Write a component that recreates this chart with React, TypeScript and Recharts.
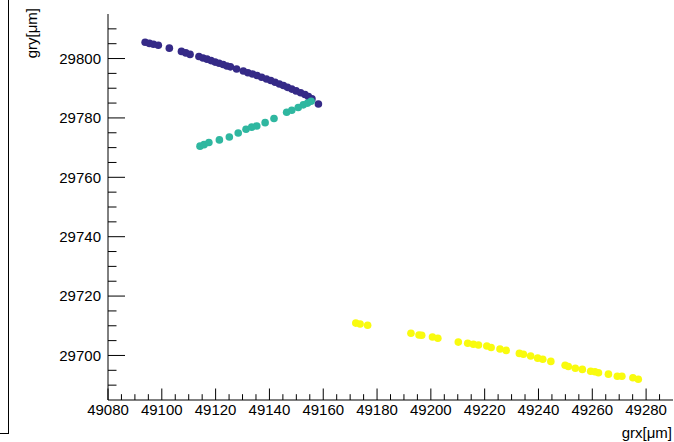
import React from 'react';
import { ScatterChart, Scatter, XAxis, YAxis } from 'recharts';

// first track (dark blue)
const blueX = [
  49093.8, 49095.4, 49096.9, 49098.7, 49102.8, 49107.3, 49108.9, 49110.5, 49113.8, 49115.3,
  49116.8, 49118.3, 49119.8, 49121.3, 49122.8, 49124.2, 49125.5, 49127.8, 49130.3, 49132.0,
  49133.7, 49135.4, 49137.1, 49138.9, 49140.5, 49142.1, 49143.7, 49145.2, 49146.7, 49148.3,
  49149.9, 49151.6, 49153.2, 49154.5, 49155.8, 49158.2,
];
const blueY = [
  29805.5, 29805.1, 29804.8, 29804.5, 29803.5, 29802.4, 29801.9, 29801.4, 29800.7, 29800.2,
  29799.8, 29799.3, 29798.8, 29798.4, 29798.0, 29797.5, 29797.2, 29796.5, 29795.8, 29795.2,
  29794.8, 29794.3, 29793.7, 29793.1, 29792.6, 29792.0, 29791.4, 29790.9, 29790.3, 29789.7,
  29789.1, 29788.5, 29787.9, 29787.2, 29786.4, 29784.7,
];

// second track (teal)
const tealX = [
  49114.2, 49115.7, 49117.5, 49121.4, 49125.1, 49128.4, 49131.3, 49133.4, 49135.3, 49138.4,
  49141.7, 49146.4, 49148.3, 49150.7, 49152.6, 49154.2, 49155.5,
];
const tealY = [
  29770.5, 29771.0, 29771.7, 29772.6, 29773.6, 29774.9, 29776.2, 29776.9, 29777.3, 29778.4,
  29779.8, 29781.9, 29782.6, 29783.5, 29784.4, 29785.0, 29785.6,
];

// third track (yellow)
const yellowX = [
  49172.1, 49173.7, 49176.5, 49192.6, 49195.6, 49196.6, 49200.6, 49202.6, 49210.2, 49213.7,
  49215.8, 49217.7, 49220.8, 49222.4, 49225.7, 49228.0, 49232.9, 49234.4, 49237.1, 49239.7,
  49241.6, 49244.6, 49249.9, 49251.1, 49253.7, 49256.3, 49259.4, 49261.0, 49262.3, 49266.0,
  49269.3, 49271.0, 49275.1, 49277.1,
];
const yellowY = [
  29710.9, 29710.6, 29710.2, 29707.5, 29706.9, 29706.8, 29706.2, 29705.8, 29704.5, 29704.1,
  29703.8, 29703.5, 29703.2, 29702.7, 29702.2, 29701.7, 29700.7, 29700.4, 29699.8, 29699.1,
  29698.7, 29698.0, 29696.7, 29696.3, 29695.7, 29695.3, 29694.7, 29694.5, 29694.2, 29693.7,
  29693.0, 29693.0, 29692.5, 29692.0,
];

const xTicks = [
  49080, 49085, 49090, 49095, 49100, 49105, 49110, 49115, 49120, 49125, 49130, 49135, 49140, 49145,
  49150, 49155, 49160, 49165, 49170, 49175, 49180, 49185, 49190, 49195, 49200, 49205, 49210, 49215,
  49220, 49225, 49230, 49235, 49240, 49245, 49250, 49255, 49260, 49265, 49270, 49275, 49280, 49285,
];
const yTicks = [
  29690, 29695, 29700, 29705, 29710, 29715, 29720, 29725, 29730, 29735, 29740, 29745, 29750,
  29755, 29760, 29765, 29770, 29775, 29780, 29785, 29790, 29795, 29800, 29805, 29810,
];

const zip = (xs: number[], ys: number[]) => xs.map((x, i) => ({ x, y: ys[i] }));

const FONT = '"Liberation Sans", Arial, Helvetica, sans-serif';

const XTick = (props: any) => {
  const { x, y, payload } = props;
  const major = payload.value % 20 === 0;
  return (
    <g>
      <line x1={x} y1={y} x2={x} y2={y - (major ? 11.5 : 5.8)} stroke="#000" />
      {major && (
        <text x={x} y={y + 15} textAnchor="middle" fontSize={15} fontFamily={FONT} fill="#000">
          {payload.value}
        </text>
      )}
    </g>
  );
};

const YTick = (props: any) => {
  const { x, y, payload } = props;
  const major = payload.value % 20 === 0;
  return (
    <g>
      <line x1={x} y1={y} x2={x + (major ? 17 : 8.5)} y2={y} stroke="#000" />
      {major && (
        <text x={x - 7} y={y + 5.3} textAnchor="end" fontSize={15} fontFamily={FONT} fill="#000">
          {payload.value}
        </text>
      )}
    </g>
  );
};

const dot = (color: string) => (p: any) => <circle cx={p.cx} cy={p.cy} r={3.8} fill={color} />;

export default function App() {
  return (
    <div style={{ position: 'absolute', left: 0, top: 0, width: 674, height: 442, background: '#fff' }}>
      <div
        style={{
          position: 'absolute',
          left: 0,
          top: -2,
          width: 8,
          height: 435,
          borderRight: '1px solid #000',
          borderBottom: '1px solid #000',
        }}
      />
      <ScatterChart width={674} height={442} margin={{ top: 14, right: 1, bottom: 0, left: 0 }}>
        <XAxis
          dataKey="x"
          type="number"
          domain={[49080, 49290]}
          ticks={xTicks}
          interval={0}
          tickSize={0}
          tickMargin={0}
          tickLine={false}
          tick={<XTick />}
          height={42}
          axisLine={{ stroke: '#000' }}
          allowDataOverflow
        />
        <XAxis
          xAxisId="top"
          orientation="top"
          type="number"
          domain={[49080, 49290]}
          tick={false}
          tickLine={false}
          height={0}
          axisLine={{ stroke: '#000' }}
        />
        <YAxis
          dataKey="y"
          type="number"
          domain={[29685, 29815]}
          ticks={yTicks}
          interval={0}
          tickSize={0}
          tickMargin={0}
          tickLine={false}
          tick={<YTick />}
          width={108}
          axisLine={{ stroke: '#000' }}
          allowDataOverflow
        />
        <YAxis
          yAxisId="right"
          orientation="right"
          type="number"
          domain={[29685, 29815]}
          tick={false}
          tickLine={false}
          width={0}
          axisLine={{ stroke: '#000' }}
        />
        <Scatter data={zip(blueX, blueY)} shape={dot('#352a87')} isAnimationActive={false} />
        <Scatter data={zip(tealX, tealY)} shape={dot('#2fb7a0')} isAnimationActive={false} />
        <Scatter data={zip(yellowX, yellowY)} shape={dot('#f9fb0e')} isAnimationActive={false} />
        <text x={672} y={438} textAnchor="end" fontSize={15} fontFamily={FONT} fill="#000">
          grx[μm]
        </text>
        <text
          x={37}
          y={8}
          textAnchor="end"
          fontSize={15}
          fontFamily={FONT}
          fill="#000"
          transform="rotate(-90 37 8)"
        >
          gry[μm]
        </text>
      </ScatterChart>
    </div>
  );
}
